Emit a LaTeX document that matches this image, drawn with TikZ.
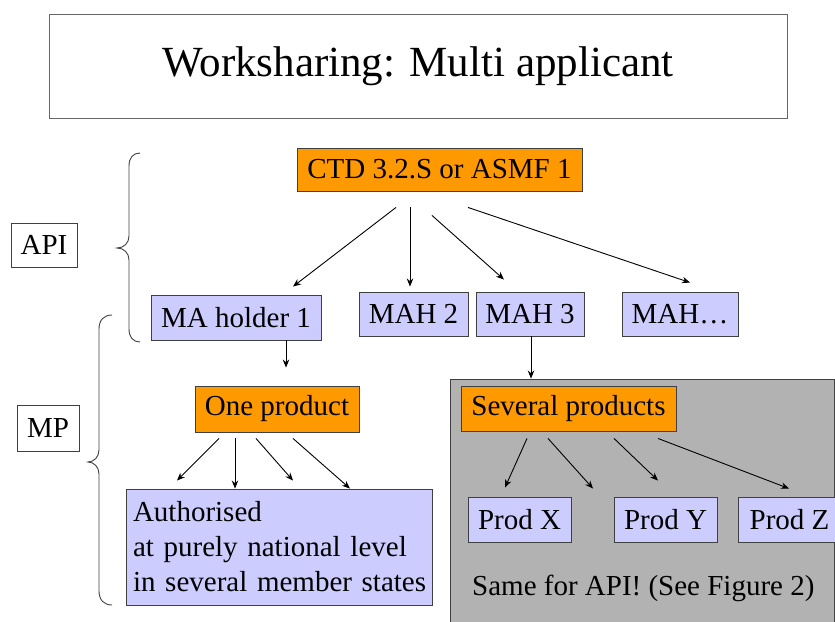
\documentclass[tikz,border=0pt]{standalone}
\usepackage{fontspec}
\setmainfont{Liberation Serif}
\usetikzlibrary{arrows.meta}
\definecolor{wsorange}{HTML}{FF9900}
\definecolor{wsblue}{HTML}{CCCCFF}
\definecolor{wsgray}{HTML}{B2B2B2}
\definecolor{wsline}{HTML}{404040}
\begin{document}
\begin{tikzpicture}[x=1pt,y=-1pt,
    box/.style={draw=wsline,line width=0.9pt,inner sep=0pt,font=\fontsize{29}{35}\selectfont},
    orangebox/.style={box,fill=wsorange},
    bluebox/.style={box,fill=wsblue},
    arr/.style={-{Stealth[length=8pt,width=6.5pt]},line width=0.9pt,black},
    brace/.style={draw=wsline,line width=0.9pt}]
    \useasboundingbox (0,0) rectangle (835,621);

    % Title
    \node[draw=gray!80!black,line width=0.9pt,minimum width=738pt,minimum height=104pt,
          font=\fontsize{43}{50}\selectfont] (title) at (418,66) {Worksharing: Multi applicant};

    % Level labels and braces
    \node[box,minimum width=66pt,minimum height=44pt] (api) at (44,245) {API};
    \node[box,minimum width=62pt,minimum height=46pt] (mp) at (48,428) {MP};
    \draw[brace] (140,153) .. controls (133,153) and (129,158) .. (129,166) -- (129,236)
        .. controls (129,243) and (124,248) .. (117,248) .. controls (124,248) and (129,253) .. (129,260)
        -- (129,329) .. controls (129,337) and (133,342) .. (140,342);
    \draw[brace] (112,315) .. controls (104,315) and (99,320) .. (99,329) -- (99,450)
        .. controls (99,457) and (94,462) .. (88,462) .. controls (94,462) and (99,467) .. (99,474)
        -- (99,591) .. controls (99,600) and (104,605) .. (112,605);

    % Gray area for several products
    \node[draw=wsline,line width=0.9pt,fill=wsgray,minimum width=384pt,minimum height=246pt] (grp) at (642,502) {};

    % API level
    \node[orangebox,minimum width=285pt,minimum height=43pt] (ctd) at (439.5,169.5) {CTD 3.2.S or ASMF 1};
    \node[bluebox,minimum width=170pt,minimum height=45pt] (ma1) at (236,317.5) {MA holder 1};
    \node[bluebox,minimum width=109pt,minimum height=44pt] (mah2) at (413.5,314) {MAH 2};
    \node[bluebox,minimum width=108pt,minimum height=44pt] (mah3) at (530,314) {MAH 3};
    \node[bluebox,minimum width=116pt,minimum height=44pt] (mahn) at (680,314) {MAH\ldots};

    \draw[arr] ([xshift=-43.5pt,yshift=-16pt]ctd.south) -- ([xshift=57pt,yshift=8pt]ma1.north);
    \draw[arr] ([xshift=-29.5pt,yshift=-16pt]ctd.south) -- ([xshift=-3.5pt,yshift=5pt]mah2.north);
    \draw[arr] ([xshift=-7.5pt,yshift=-24pt]ctd.south) -- ([xshift=-26pt,yshift=12pt]mah3.north);
    \draw[arr] ([xshift=28.5pt,yshift=-16pt]ctd.south) -- ([xshift=10pt,yshift=9pt]mahn.north);

    % One product
    \node[orangebox,minimum width=164pt,minimum height=46pt] (one) at (277,409) {One product};
    \node[bluebox,minimum width=306pt,minimum height=116pt,text width=300pt,align=left,
          inner xsep=3pt] (auth) at (279,547)
        {\hspace*{4pt}Authorised\\\hspace*{4pt}at purely national level\\\hspace*{4pt}in several member states};

    \draw[arr] ([xshift=50pt]ma1.south) -- ([xshift=9pt,yshift=18pt]one.north);
    \draw[arr] ([xshift=-58pt,yshift=-6pt]one.south) -- ([xshift=-102pt,yshift=8pt]auth.north);
    \draw[arr] ([xshift=-42pt,yshift=-6pt]one.south) -- ([xshift=-44pt]auth.north);
    \draw[arr] ([xshift=-21pt,yshift=-6pt]one.south) -- ([xshift=14pt,yshift=8pt]auth.north);
    \draw[arr] ([xshift=16pt,yshift=-6pt]one.south) -- ([xshift=71pt]auth.north);

    % Several products
    \node[orangebox,minimum width=215pt,minimum height=45pt] (several) at (568.5,408.5) {Several products};
    \node[bluebox,minimum width=103pt,minimum height=45pt] (px) at (519.5,519.5) {Prod X};
    \node[bluebox,minimum width=103pt,minimum height=45pt] (py) at (665.5,519.5) {Prod Y};
    \node[bluebox,minimum width=103pt,minimum height=45pt] (pz) at (789.5,519.5) {Prod Z};
    \node[anchor=base west,inner sep=0pt,font=\fontsize{29}{35}\selectfont] (samenote) at (472,595)
        {Same for API! (See Figure 2)};

    \draw[arr] ([xshift=1pt]mah3.south) -- ([xshift=1pt]mah3.south |- grp.north);
    \draw[arr] ([xshift=-41.5pt,yshift=-7pt]several.south) -- ([xshift=-14.5pt,yshift=9pt]px.north);
    \draw[arr] ([xshift=-20.5pt,yshift=-7pt]several.south) -- ([xshift=73.5pt,yshift=8pt]px.north);
    \draw[arr] ([xshift=45.5pt,yshift=-7pt]several.south) -- ([xshift=-7.5pt,yshift=16pt]py.north);
    \draw[arr] ([xshift=89.5pt,yshift=-7pt]several.south) -- ([xshift=-0.5pt,yshift=8pt]pz.north);
\end{tikzpicture}
\end{document}
